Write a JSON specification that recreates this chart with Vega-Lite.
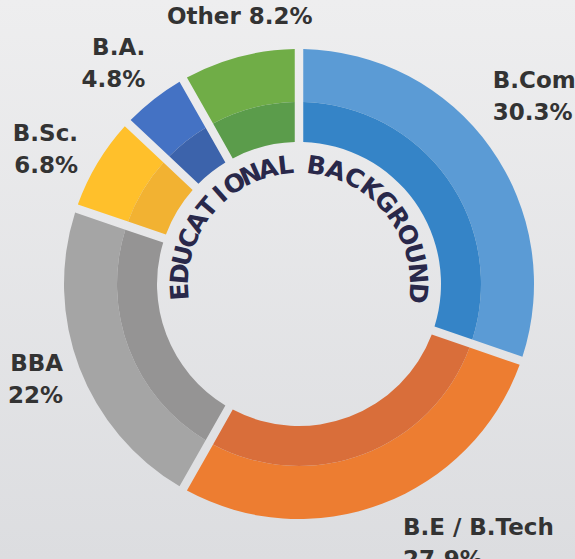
{
  "$schema": "https://vega.github.io/schema/vega-lite/v6.json",
  "width": 575,
  "height": 559,
  "autosize": {"type": "none"},
  "padding": 0,
  "background": "#e6e7e8",
  "config": {"view": {"stroke": null}},
  "data": {
    "values": [
      {"cat": "B.Com", "value": 30.3, "ord": 1, "label": "B.Com\n30.3%"},
      {"cat": "B.E / B.Tech", "value": 27.9, "ord": 2, "label": "B.E / B.Tech\n27.9%"},
      {"cat": "BBA", "value": 22, "ord": 3, "label": "BBA\n22%"},
      {"cat": "B.Sc.", "value": 6.8, "ord": 4, "label": "B.Sc.\n6.8%"},
      {"cat": "B.A.", "value": 4.8, "ord": 5, "label": "B.A.\n4.8%"},
      {"cat": "Other", "value": 8.2, "ord": 6, "label": "Other 8.2%"}
    ]
  },
  "layer": [
    {
      "data": {"values": [{}]},
      "mark": {
        "type": "rect",
        "color": {
          "gradient": "linear", "x1": 0, "y1": 0, "x2": 0, "y2": 1,
          "stops": [{"offset": 0, "color": "#eeeeef"}, {"offset": 1, "color": "#dcdde0"}]
        }
      },
      "encoding": {}
    },
    {
      "mark": {"type": "arc", "radius": 235, "radius2": 182, "padAngle": 0.0286, "xOffset": 11.5, "yOffset": 4.5},
      "encoding": {
        "theta": {"field": "value", "type": "quantitative", "stack": true},
        "order": {"field": "ord"},
        "color": {
          "field": "cat", "type": "nominal", "legend": null,
          "scale": {
            "domain": ["B.Com", "B.E / B.Tech", "BBA", "B.Sc.", "B.A.", "Other"],
            "range": ["#5b9bd5", "#ed7d31", "#a5a5a5", "#ffc02b", "#4472c4", "#70ad47"]
          }
        }
      }
    },
    {
      "mark": {"type": "arc", "radius": 182, "radius2": 142, "padAngle": 0.0368, "xOffset": 11.5, "yOffset": 4.5},
      "encoding": {
        "theta": {"field": "value", "type": "quantitative", "stack": true},
        "order": {"field": "ord"},
        "color": {
          "field": "cat", "type": "nominal", "legend": null,
          "scale": {
            "domain": ["B.Com", "B.E / B.Tech", "BBA", "B.Sc.", "B.A.", "Other"],
            "range": ["#3584c7", "#d96e3a", "#959494", "#f2b232", "#3c63ab", "#5b9c4b"]
          }
        }
      }
    },
    {
      "mark": {"type": "text", "align": "left", "baseline": "middle", "dx": -18, "dy": -52, "xOffset": 11.5, "yOffset": 4.5, "font": "DejaVu Sans", "fontWeight": "bold", "fontSize": 23, "lineHeight": 32, "lineBreak": "\n", "color": "#333333"},
      "encoding": {
        "theta": {"field": "value", "type": "quantitative", "stack": true},
        "order": {"field": "ord"},
        "detail": {"field": "cat"},
        "radius": {"value": 260},
        "text": {"condition": {"test": "datum.cat === 'B.Com'", "field": "label"}, "value": ""}
      }
    },
    {
      "mark": {"type": "text", "align": "left", "baseline": "middle", "dx": 12, "dy": 1, "xOffset": 11.5, "yOffset": 4.5, "font": "DejaVu Sans", "fontWeight": "bold", "fontSize": 23, "lineHeight": 32, "lineBreak": "\n", "color": "#333333"},
      "encoding": {
        "theta": {"field": "value", "type": "quantitative", "stack": true},
        "order": {"field": "ord"},
        "detail": {"field": "cat"},
        "radius": {"value": 260},
        "text": {"condition": {"test": "datum.cat === 'B.E / B.Tech'", "field": "label"}, "value": ""}
      }
    },
    {
      "mark": {"type": "text", "align": "right", "baseline": "middle", "dx": 7, "dy": -13, "xOffset": 11.5, "yOffset": 4.5, "font": "DejaVu Sans", "fontWeight": "bold", "fontSize": 23, "lineHeight": 32, "lineBreak": "\n", "color": "#333333"},
      "encoding": {
        "theta": {"field": "value", "type": "quantitative", "stack": true},
        "order": {"field": "ord"},
        "detail": {"field": "cat"},
        "radius": {"value": 260},
        "text": {"condition": {"test": "datum.cat === 'BBA'", "field": "label"}, "value": ""}
      }
    },
    {
      "mark": {"type": "text", "align": "right", "baseline": "middle", "dx": 2, "dy": -16, "xOffset": 11.5, "yOffset": 4.5, "font": "DejaVu Sans", "fontWeight": "bold", "fontSize": 23, "lineHeight": 32, "lineBreak": "\n", "color": "#333333"},
      "encoding": {
        "theta": {"field": "value", "type": "quantitative", "stack": true},
        "order": {"field": "ord"},
        "detail": {"field": "cat"},
        "radius": {"value": 260},
        "text": {"condition": {"test": "datum.cat === 'B.Sc.'", "field": "label"}, "value": ""}
      }
    },
    {
      "mark": {"type": "text", "align": "right", "baseline": "middle", "dx": 7, "dy": -32, "xOffset": 11.5, "yOffset": 4.5, "font": "DejaVu Sans", "fontWeight": "bold", "fontSize": 23, "lineHeight": 32, "lineBreak": "\n", "color": "#333333"},
      "encoding": {
        "theta": {"field": "value", "type": "quantitative", "stack": true},
        "order": {"field": "ord"},
        "detail": {"field": "cat"},
        "radius": {"value": 260},
        "text": {"condition": {"test": "datum.cat === 'B.A.'", "field": "label"}, "value": ""}
      }
    },
    {
      "mark": {"type": "text", "align": "center", "baseline": "middle", "dx": 7, "dy": -16, "xOffset": 11.5, "yOffset": 4.5, "font": "DejaVu Sans", "fontWeight": "bold", "fontSize": 23, "lineHeight": 32, "lineBreak": "\n", "color": "#333333"},
      "encoding": {
        "theta": {"field": "value", "type": "quantitative", "stack": true},
        "order": {"field": "ord"},
        "detail": {"field": "cat"},
        "radius": {"value": 260},
        "text": {"condition": {"test": "datum.cat === 'Other'", "field": "label"}, "value": ""}
      }
    },
    {
      "data": {
        "values": [
          {"i": 0, "ch": "E"}, {"i": 1, "ch": "D"}, {"i": 2, "ch": "U"}, {"i": 3, "ch": "C"},
          {"i": 4, "ch": "A"}, {"i": 5, "ch": "T"}, {"i": 6, "ch": "I"}, {"i": 7, "ch": "O"},
          {"i": 8, "ch": "N"}, {"i": 9, "ch": "A"}, {"i": 10, "ch": "L"}, {"i": 11, "ch": " "},
          {"i": 12, "ch": "B"}, {"i": 13, "ch": "A"}, {"i": 14, "ch": "C"}, {"i": 15, "ch": "K"},
          {"i": 16, "ch": "G"}, {"i": 17, "ch": "R"}, {"i": 18, "ch": "O"}, {"i": 19, "ch": "U"},
          {"i": 20, "ch": "N"}, {"i": 21, "ch": "D"}
        ]
      },
      "mark": {"type": "text", "align": "center", "baseline": "middle", "font": "DejaVu Sans", "fontWeight": "bold", "fontSize": 25, "color": "#29284a", "xOffset": 11.5, "yOffset": 4.5},
      "encoding": {
        "theta": {"field": "i", "type": "quantitative", "stack": null, "scale": {"domain": [0, 10, 12, 21], "range": [-1.637, -0.1117, 0.1466, 1.6476]}},
        "radius": {"value": 119},
        "angle": {"field": "i", "type": "quantitative", "scale": {"domain": [0, 10, 12, 21], "range": [-93.8, -6.4, 8.4, 94.4]}},
        "text": {"field": "ch"}
      }
    }
  ],
  "resolve": {"scale": {"theta": "independent", "color": "independent", "angle": "independent"}}
}
